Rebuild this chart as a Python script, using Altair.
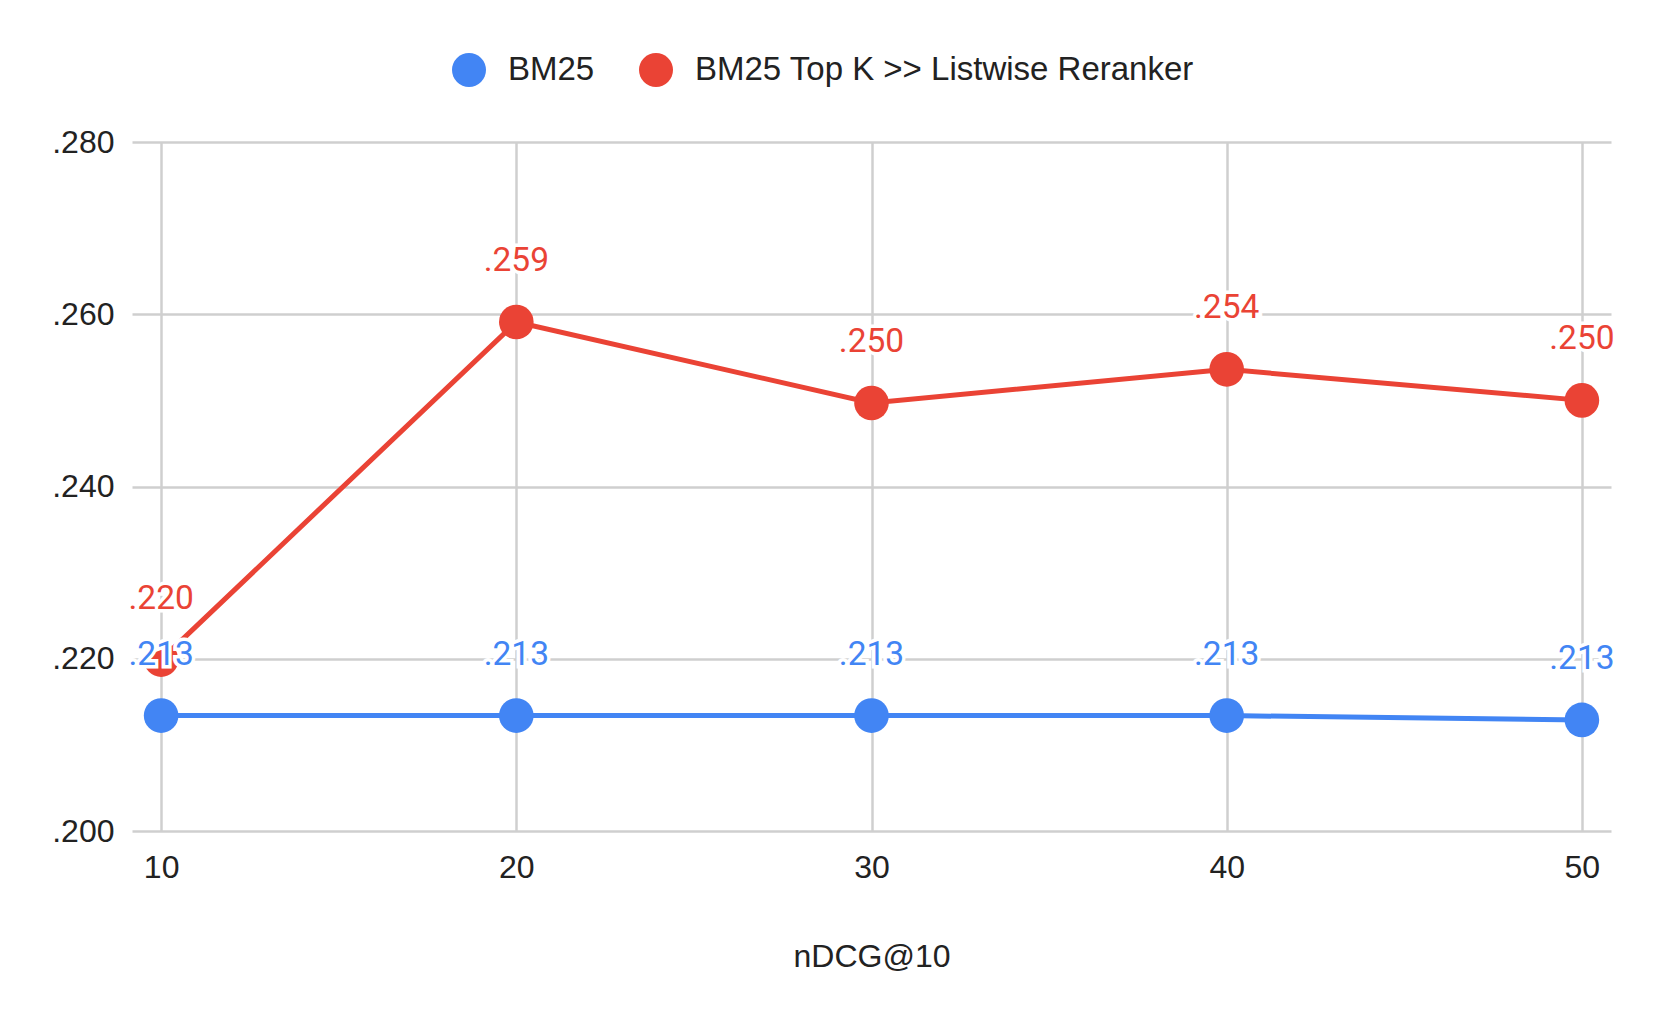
import altair as alt
import pandas as pd

k_values = [10, 20, 30, 40, 50]
bm25 = [0.2134, 0.2134, 0.2134, 0.2134, 0.2129]
reranker = [0.2199, 0.2591, 0.2497, 0.2536, 0.2500]
series_names = ["BM25", "BM25 Top K >> Listwise Reranker"]
series_colors = ["#4285F4", "#EA4335"]
y_ticks = [0.20, 0.22, 0.24, 0.26, 0.28]
x_title = "nDCG@10"

rows = []
for name, vals in zip(series_names, [bm25, reranker]):
    for k, v in zip(k_values, vals):
        rows.append({"k": k, "value": v, "series": name})
df = pd.DataFrame(rows)

x_enc = alt.X("k:Q",
              scale=alt.Scale(domain=[9.18, 50.82], nice=False, zero=False),
              axis=alt.Axis(values=k_values, title=x_title, format="d",
                            grid=True, domain=False, ticks=False,
                            labelPadding=21, titleY=125, titleBaseline="middle"))
y_enc = alt.Y("value:Q",
              scale=alt.Scale(domain=[0.2, 0.28], nice=False, zero=False),
              axis=alt.Axis(values=y_ticks, title=None, grid=True, domain=False,
                            ticks=False, labelPadding=18,
                            labelExpr="substring(format(datum.value, '.3f'), 1)"))
color_scale = alt.Scale(domain=series_names, range=series_colors)
legend = alt.Legend(title=None, orient="none", direction="horizontal",
                    legendX=320, legendY=-89,
                    symbolType="circle", symbolSize=1156,
                    symbolStrokeWidth=0, symbolOpacity=1,
                    labelFontSize=33, labelFont="Liberation Sans",
                    labelColor="#222222", labelOffset=22, labelLimit=1000,
                    columnPadding=44)
color_enc = alt.Color("series:N", scale=color_scale, legend=legend)

base = alt.Chart(df)

lines = base.mark_line(strokeWidth=5).encode(
    x=x_enc, y=y_enc, color=color_enc,
)
points = base.mark_point(filled=True, size=1200, opacity=1, shape="circle").encode(
    x=x_enc, y=y_enc, color=color_enc,
)
halo = base.mark_text(font="Roboto", fontSize=33.5, dy=-61, baseline="middle",
                      color="white", stroke="white", strokeWidth=7).transform_calculate(
    lab="substring(format(datum.value, '.3f'), 1)"
).encode(x=x_enc, y=y_enc, text="lab:N", detail="series:N")
labels = base.mark_text(font="Roboto", fontSize=33.5, dy=-61, baseline="middle").transform_calculate(
    lab="substring(format(datum.value, '.3f'), 1)"
).encode(
    x=x_enc, y=y_enc, text="lab:N", color=color_enc,
)

chart = alt.layer(lines, points, halo, labels).properties(
    width=1479, height=689,
    autosize=alt.AutoSizeParams(type="none"),
    padding={"left": 132, "top": 142, "right": 50, "bottom": 196},
    background="white",
).configure_view(stroke=None).configure_axis(
    gridColor="#cfcfcf", gridWidth=2.5, labelFont="Liberation Sans",
    labelFontSize=32, labelColor="#222222", titleFont="Liberation Sans",
    titleFontSize=32, titleColor="#222222", titleFontWeight="normal",
)

chart.save("out.html", embed_options={"renderer": "svg", "actions": False})
